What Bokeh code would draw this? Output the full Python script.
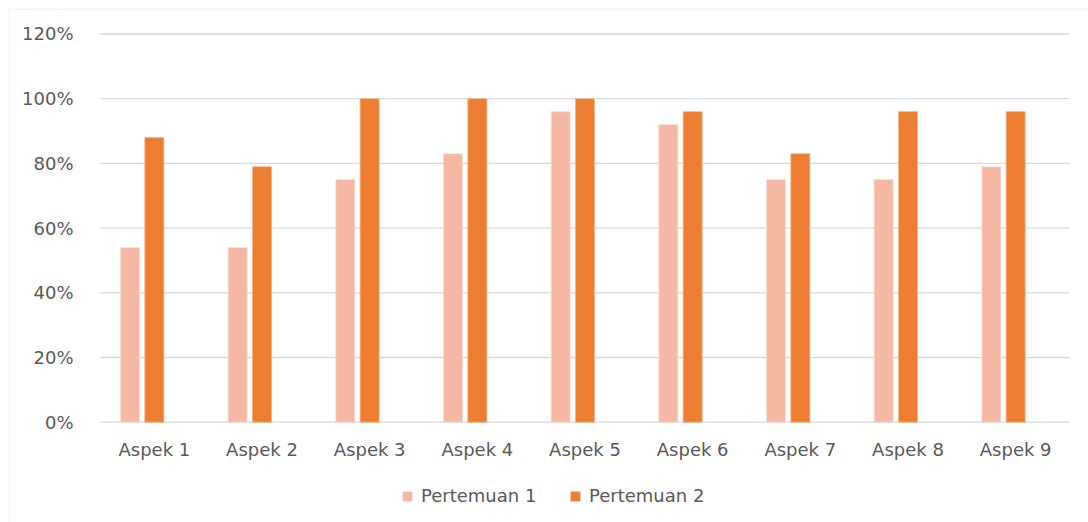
import numpy as np
from bokeh.plotting import figure
from bokeh.models import (ColumnDataSource, Range1d, Legend, LegendItem, NumeralTickFormatter,
                          FixedTicker, BoxAnnotation)
from bokeh.transform import dodge
from bokeh.embed import file_html
from bokeh.resources import INLINE

categories = ["Aspek 1", "Aspek 2", "Aspek 3", "Aspek 4", "Aspek 5", "Aspek 6", "Aspek 7", "Aspek 8", "Aspek 9"]
pertemuan_1 = [0.54, 0.54, 0.75, 0.83, 0.96, 0.92, 0.75, 0.75, 0.79]
pertemuan_2 = [0.88, 0.79, 1.00, 1.00, 1.00, 0.96, 0.83, 0.96, 0.96]
y_ticks = [0, 0.2, 0.4, 0.6, 0.8, 1.0, 1.2]
series_names = ["Pertemuan 1", "Pertemuan 2"]

n = len(categories)
centers = [float(i) + 0.5 for i in range(n)]
source = ColumnDataSource(dict(x=centers, cat=categories, p1=pertemuan_1, p2=pertemuan_2))

FONT = "DejaVu Sans"
TXT = "#595959"
FS = "18px"

p = figure(width=1088, height=522, x_range=Range1d(-0.8545, 9.1765), y_range=Range1d(-0.3100, 1.2788),
           output_backend="svg", toolbar_location=None,
           min_border_left=8, min_border_right=0, min_border_top=8, min_border_bottom=0)
p.outline_line_color = None
p.background_fill_color = "white"
p.border_fill_color = "white"
p.xgrid.grid_line_color = None
p.ygrid.grid_line_color = None

# horizontal gridlines at the y ticks, spanning the category area
p.segment(x0=[0] * len(y_ticks), x1=[n] * len(y_ticks), y0=y_ticks, y1=y_ticks,
          line_color="#D9D9D9", line_width=1.3)

r1 = p.vbar(x=dodge("x", -0.226), top="p1", width=0.177, source=source,
            fill_color="#F4B8A5", line_color="#FBE0D6", line_width=0.8)
r2 = p.vbar(x=dodge("x", 0.0), top="p2", width=0.177, source=source,
            fill_color="#ED7D31", line_color="#F5B58A", line_width=0.8)

p.yaxis.ticker = FixedTicker(ticks=y_ticks)
p.yaxis.formatter = NumeralTickFormatter(format="0%")
p.yaxis.fixed_location = 0
p.xaxis.ticker = FixedTicker(ticks=centers)
p.xaxis.major_label_overrides = {c: lab for c, lab in zip(centers, categories)}
p.xaxis.fixed_location = 0

for ax in (p.xaxis, p.yaxis):
    ax.axis_line_color = None
    ax.major_tick_line_color = None
    ax.minor_tick_line_color = None
    ax.major_label_text_font = FONT
    ax.major_label_text_font_size = FS
    ax.major_label_text_color = TXT
p.yaxis.major_label_standoff = 21
p.xaxis.major_label_standoff = 11

legend = Legend(items=[LegendItem(label=series_names[0], renderers=[r1]),
                       LegendItem(label=series_names[1], renderers=[r2])],
                orientation="horizontal", location=(393, 16),
                label_text_font=FONT, label_text_font_size=FS, label_text_color=TXT,
                glyph_width=12, glyph_height=12, label_standoff=8, spacing=13, label_width=135,
                border_line_color=None, background_fill_alpha=0, padding=0, margin=0)
p.add_layout(legend, "center")

frame_box = BoxAnnotation(left=8.5, top=8.5, right=2000, bottom=2000,
                          left_units="canvas", right_units="canvas", top_units="canvas", bottom_units="canvas",
                          fill_alpha=0, line_color="#D4D4D4", line_width=1.5)
p.add_layout(frame_box)

open("out.html", "w").write(file_html(p, INLINE))
